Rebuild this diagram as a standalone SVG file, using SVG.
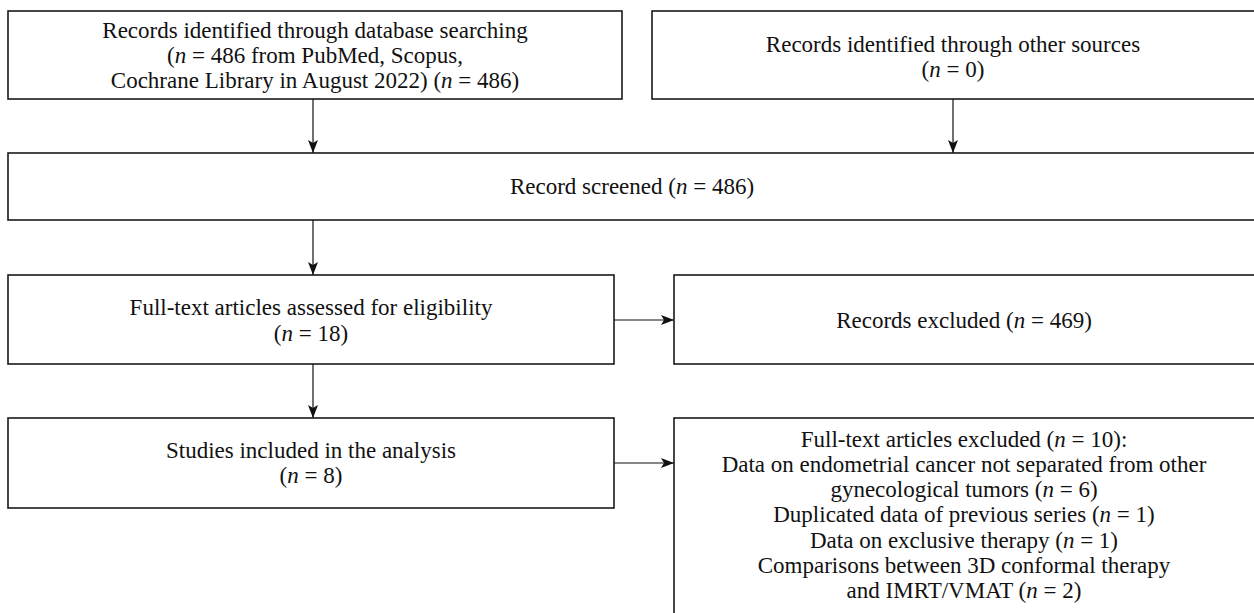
<svg xmlns="http://www.w3.org/2000/svg" width="1254" height="613" viewBox="0 0 1254 613">
<defs>
<style>
.box{fill:#fff;stroke:#1a1a1a;stroke-width:1.6}
.t{font-family:"Liberation Serif","Times New Roman",serif;font-size:23px;fill:#111;text-anchor:middle}
.i{font-style:italic}
.c{stroke:#111;stroke-width:1.2;fill:none;marker-end:url(#ah)}
</style>
<marker id="ah" markerWidth="14" markerHeight="10" refX="13" refY="5" orient="auto" markerUnits="userSpaceOnUse">
<path d="M0,0 L13,5 L0,10 L3,5 Z" fill="#111"/>
</marker>
</defs>
<rect width="1254" height="613" fill="#fff"/>
<g id="connectors">
<line class="c" x1="313" y1="99" x2="313" y2="153"/>
<line class="c" x1="953" y1="99" x2="953" y2="153"/>
<line class="c" x1="313" y1="220" x2="313" y2="275"/>
<line class="c" x1="614" y1="320" x2="674" y2="320"/>
<line class="c" x1="313" y1="364" x2="313" y2="418"/>
<line class="c" x1="614" y1="463" x2="674" y2="463"/>
</g>
<g id="n1">
<rect class="box" x="8" y="11" width="614" height="88"/>
<text class="t" x="315" y="38">Records identified through database searching</text>
<text class="t" x="315" y="63">(<tspan class="i">n</tspan> = 486 from PubMed, Scopus,</text>
<text class="t" x="315" y="88">Cochrane Library in August 2022) (<tspan class="i">n</tspan> = 486)</text>
</g>
<g id="n2">
<rect class="box" x="652" y="11" width="610" height="88"/>
<text class="t" x="953" y="52">Records identified through other sources</text>
<text class="t" x="953" y="77">(<tspan class="i">n</tspan> = 0)</text>
</g>
<g id="n3">
<rect class="box" x="8" y="153" width="1254" height="67"/>
<text class="t" x="632" y="194">Record screened (<tspan class="i">n</tspan> = 486)</text>
</g>
<g id="n4">
<rect class="box" x="8" y="275" width="606" height="89"/>
<text class="t" x="311" y="315">Full-text articles assessed for eligibility</text>
<text class="t" x="311" y="341">(<tspan class="i">n</tspan> = 18)</text>
</g>
<g id="n5">
<rect class="box" x="674" y="275" width="588" height="89"/>
<text class="t" x="964" y="328">Records excluded (<tspan class="i">n</tspan> = 469)</text>
</g>
<g id="n6">
<rect class="box" x="8" y="418" width="606" height="90"/>
<text class="t" x="311" y="458">Studies included in the analysis</text>
<text class="t" x="311" y="483">(<tspan class="i">n</tspan> = 8)</text>
</g>
<g id="n7">
<rect class="box" x="674" y="418" width="588" height="210"/>
<text class="t" x="964" y="447">Full-text articles excluded (<tspan class="i">n</tspan> = 10):</text>
<text class="t" x="964" y="472">Data on endometrial cancer not separated from other</text>
<text class="t" x="964" y="497">gynecological tumors (<tspan class="i">n</tspan> = 6)</text>
<text class="t" x="964" y="522">Duplicated data of previous series (<tspan class="i">n</tspan> = 1)</text>
<text class="t" x="964" y="548">Data on exclusive therapy (<tspan class="i">n</tspan> = 1)</text>
<text class="t" x="964" y="573">Comparisons between 3D conformal therapy</text>
<text class="t" x="964" y="598">and IMRT/VMAT (<tspan class="i">n</tspan> = 2)</text>
</g>
</svg>
